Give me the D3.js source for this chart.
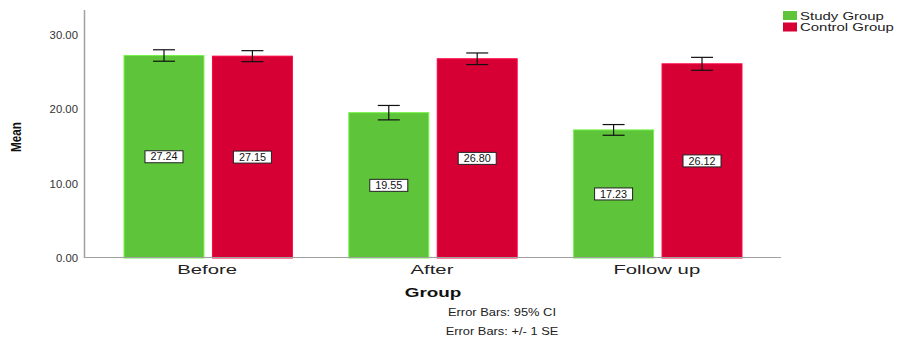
<!DOCTYPE html>
<html><head><meta charset="utf-8">
<script src="https://cdn.jsdelivr.net/npm/d3@7"></script>
<style>body{margin:0;background:#fff;} svg{display:block;font-family:"Liberation Sans",Arial,sans-serif;}</style>
</head><body><svg id="c" width="902" height="339"></svg>
<script>
const categories = ["Before", "After", "Follow up"];
const seriesNames = ["Study Group", "Control Group"];
const studyValues = [27.24, 19.55, 17.23];
const controlValues = [27.15, 26.80, 26.12];
const studyErr = [0.77, 0.97, 0.72];
const controlErr = [0.74, 0.78, 0.87];
const yTicks = [0, 10, 20, 30];
const colors = ["#5ec43a", "#d60035"];

const svg = d3.select("#c");
const y = d3.scaleLinear().domain([0, 33.36]).range([258, 10]);
const x0 = d3.scaleBand().domain(categories).range([84, 782]).paddingInner(0.251).paddingOuter(0.178);
const x1 = d3.scaleBand().domain(seriesNames).range([0, x0.bandwidth()]).paddingInner(0.096);

function wide(sel, factor) {
  sel.each(function() {
    const w = this.getComputedTextLength();
    this.setAttribute("textLength", w * factor);
    this.setAttribute("lengthAdjust", "spacingAndGlyphs");
  });
}

const data = categories.map((c, i) => ({
  cat: c,
  vals: [
    {s: seriesNames[0], v: studyValues[i], e: studyErr[i], col: colors[0]},
    {s: seriesNames[1], v: controlValues[i], e: controlErr[i], col: colors[1]}
  ]
}));

const g = svg.selectAll("g.grp").data(data).enter().append("g")
  .attr("transform", d => `translate(${x0(d.cat)},0)`);
const items = g.selectAll("g.item").data(d => d.vals).enter().append("g");
items.append("rect")
  .attr("x", d => x1(d.s)).attr("width", x1.bandwidth())
  .attr("y", d => y(d.v)).attr("height", d => y(0) - y(d.v))
  .attr("fill", d => d.col).attr("stroke", d => d3.color(d.col).brighter(0.6)).attr("stroke-width", 1);
const cx = d => x1(d.s) + x1.bandwidth() / 2;
items.append("line").attr("x1", cx).attr("x2", cx)
  .attr("y1", d => y(d.v + d.e)).attr("y2", d => y(d.v - d.e))
  .attr("stroke", "#111").attr("stroke-width", 1.2);
items.append("line").attr("x1", d => cx(d) - 11).attr("x2", d => cx(d) + 11)
  .attr("y1", d => y(d.v + d.e)).attr("y2", d => y(d.v + d.e))
  .attr("stroke", "#111").attr("stroke-width", 1.2);
items.append("line").attr("x1", d => cx(d) - 11).attr("x2", d => cx(d) + 11)
  .attr("y1", d => y(d.v - d.e)).attr("y2", d => y(d.v - d.e))
  .attr("stroke", "#111").attr("stroke-width", 1.2);
items.append("rect")
  .attr("x", d => cx(d) - 19).attr("width", 38)
  .attr("y", d => y(d.v / 2) - 6).attr("height", 12)
  .attr("fill", "#fff").attr("stroke", "#222").attr("stroke-width", 1);
items.append("text")
  .attr("x", cx).attr("y", d => y(d.v / 2) + 3.6)
  .attr("text-anchor", "middle").attr("font-size", 10).attr("fill", "#111")
  .text(d => d.v.toFixed(2)).call(wide, 1.08);

svg.append("line").attr("x1", 84.5).attr("x2", 84.5).attr("y1", 10).attr("y2", 258)
  .attr("stroke", "#a0a0a0").attr("stroke-width", 1.5);
svg.append("line").attr("x1", 84).attr("x2", 781).attr("y1", 257.5).attr("y2", 257.5)
  .attr("stroke", "#a0a0a0").attr("stroke-width", 1.2);
svg.selectAll("text.yt").data(yTicks).enter().append("text")
  .attr("x", 78).attr("y", d => y(d) + 4).attr("text-anchor", "end")
  .attr("font-size", 10.5).attr("fill", "#333").text(d => d.toFixed(2)).call(wide, 1.08);
svg.selectAll("text.xt").data(categories).enter().append("text")
  .attr("x", d => x0(d) + x0.bandwidth() / 2 - 1).attr("y", 274).attr("text-anchor", "middle")
  .attr("font-size", 13).attr("fill", "#222").text(d => d).call(wide, 1.56);

svg.append("text").attr("transform", "translate(21,137) rotate(-90)")
  .attr("text-anchor", "middle").attr("font-size", 15).attr("font-weight", "bold")
  .attr("fill", "#111").text("Mean").call(wide, 0.78);
svg.append("text").attr("x", 433).attr("y", 297).attr("text-anchor", "middle")
  .attr("font-size", 13).attr("font-weight", "bold").attr("fill", "#111").text("Group").call(wide, 1.45);
svg.append("text").attr("x", 502).attr("y", 316).attr("text-anchor", "middle")
  .attr("font-size", 11).attr("fill", "#222").text("Error Bars: 95% CI").call(wide, 1.17);
svg.append("text").attr("x", 502).attr("y", 335).attr("text-anchor", "middle")
  .attr("font-size", 11).attr("fill", "#222").text("Error Bars: +/- 1 SE").call(wide, 1.17);

const lg = svg.selectAll("g.lg").data(seriesNames).enter().append("g")
  .attr("transform", (d, i) => `translate(783,${11 + i * 11.5})`);
lg.append("rect").attr("width", 14).attr("height", 9).attr("fill", (d, i) => colors[i]);
lg.append("text").attr("x", 17).attr("y", 8.5).attr("font-size", 11.5).attr("fill", "#222").text(d => d).call(wide, 1.3);
</script></body></html>
